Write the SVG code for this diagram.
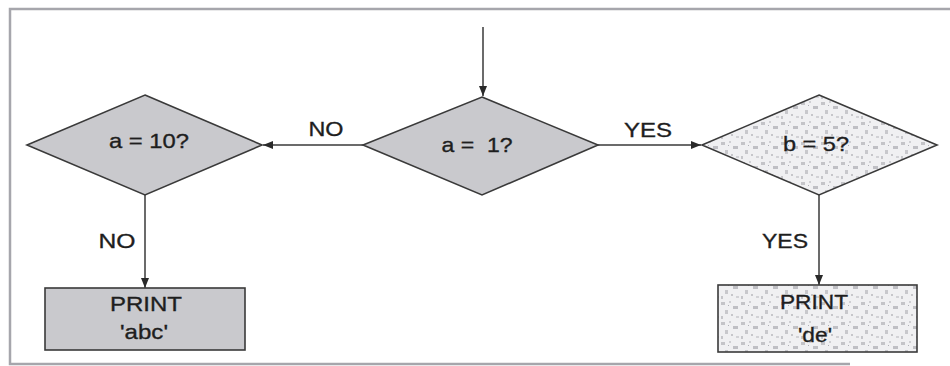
<svg xmlns="http://www.w3.org/2000/svg" width="950" height="366" viewBox="0 0 950 366">
  <defs>
    <style>
      .frame { fill: none; stroke: #a6a6ac; stroke-width: 2.5; }
      .shape { stroke: #3a3a3a; stroke-width: 1.6; }
      .grey { fill: #c9c9cd; }
      .speck { fill: url(#speckle); }
      .conn { fill: none; stroke: #3a3a3a; stroke-width: 1.5; }
      .t { font-family: "Liberation Sans", Arial, sans-serif; font-size: 21px; fill: #1e1e1e; stroke: #1e1e1e; stroke-width: 0.35; text-anchor: middle; }
    </style>
    <pattern id="speckle" width="20" height="20" patternUnits="userSpaceOnUse">
      <rect width="20" height="20" fill="#f0f0f2"/>
      <rect x="1" y="2" width="4" height="3" fill="#c4c4c8"/>
      <rect x="9" y="1" width="2" height="2" fill="#cfcfd3"/>
      <rect x="13" y="6" width="5" height="3" fill="#bfbfc4"/>
      <rect x="5" y="10" width="3" height="4" fill="#c8c8cc"/>
      <rect x="11" y="14" width="2" height="2" fill="#c6c6ca"/>
      <rect x="16" y="16" width="3" height="2" fill="#d2d2d6"/>
      <rect x="1" y="16" width="2" height="3" fill="#c6c6ca"/>
      <rect x="8" y="5" width="1" height="1" fill="#b0b0b6"/>
    </pattern>
    <marker id="arrow" viewBox="0 0 10 8" refX="10" refY="4" markerWidth="10" markerHeight="8" markerUnits="userSpaceOnUse" orient="auto">
      <path d="M0,0 L10,4 L0,8 Z" fill="#2a2a2a"/>
    </marker>
  </defs>

  <rect width="950" height="366" fill="#ffffff"/>
  <path class="frame" d="M950,9 L10,9 L10,364 L850,364"/>

  <g id="connectors">
    <line class="conn" x1="483" y1="27" x2="483" y2="96" marker-end="url(#arrow)"/>
    <line class="conn" x1="363" y1="145" x2="263" y2="145" marker-end="url(#arrow)"/>
    <line class="conn" x1="598" y1="145" x2="701" y2="145" marker-end="url(#arrow)"/>
    <line class="conn" x1="145" y1="195" x2="145" y2="288" marker-end="url(#arrow)"/>
    <line class="conn" x1="819" y1="195" x2="819" y2="285" marker-end="url(#arrow)"/>
    <text class="t" x="326" y="136" textLength="35" lengthAdjust="spacingAndGlyphs">NO</text>
    <text class="t" x="648" y="137" textLength="48" lengthAdjust="spacingAndGlyphs">YES</text>
    <text class="t" x="117" y="248" textLength="37" lengthAdjust="spacingAndGlyphs">NO</text>
    <text class="t" x="785" y="248" textLength="46" lengthAdjust="spacingAndGlyphs">YES</text>
  </g>

  <g id="node-a1">
    <polygon class="shape grey" points="482,97 598,145 482,195 363,145"/>
    <text class="t" x="477" y="152" textLength="71" lengthAdjust="spacingAndGlyphs" xml:space="preserve">a =  1?</text>
  </g>

  <g id="node-a10">
    <polygon class="shape grey" points="145,95 262,145 145,195 27,145"/>
    <text class="t" x="149" y="148" textLength="80" lengthAdjust="spacingAndGlyphs">a = 10?</text>
  </g>

  <g id="node-b5">
    <polygon class="shape speck" points="819,95 937,145 819,195 702,145"/>
    <text class="t" x="816" y="151" textLength="66" lengthAdjust="spacingAndGlyphs">b = 5?</text>
  </g>

  <g id="node-print-abc">
    <rect class="shape grey" x="45" y="288" width="200" height="62"/>
    <text class="t" x="146" y="311" textLength="72" lengthAdjust="spacingAndGlyphs">PRINT</text>
    <text class="t" x="144" y="339" textLength="48" lengthAdjust="spacingAndGlyphs">'abc'</text>
  </g>

  <g id="node-print-de">
    <rect class="shape speck" x="718" y="285" width="199" height="67"/>
    <text class="t" x="814" y="309" textLength="68" lengthAdjust="spacingAndGlyphs">PRINT</text>
    <text class="t" x="815" y="342" textLength="34" lengthAdjust="spacingAndGlyphs">'de'</text>
  </g>
</svg>
